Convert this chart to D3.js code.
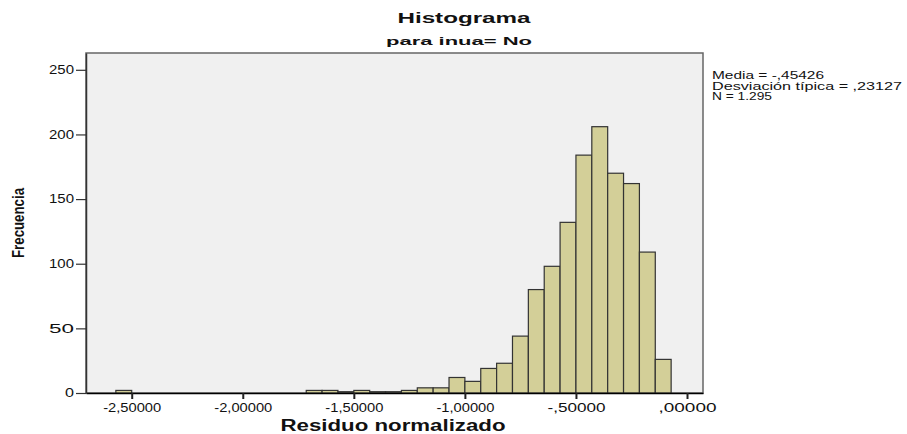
<html>
<head>
<meta charset="utf-8">
</head>
<body style="margin: 0 0 0 0; background: #fff;">
<svg id="chart"></svg>
<script src="https://cdnjs.cloudflare.com/ajax/libs/d3/7.8.5/d3.min.js"></script>
<script type="text/javascript">

// histogram: bins of width 1/14, first bin starts at -36/14
var binWidth = 1 / 14
var binStart = -36 / 14
var counts = [2, 0, 0, 0, 0, 0, 0, 0, 0, 0, 0, 0,
              2, 2, 1, 2, 1, 1, 2, 4, 4, 12, 9, 19, 23,
              44, 80, 98, 132, 184, 206, 170, 162, 109, 26]

var xTicks = [-2.5, -2.0, -1.5, -1.0, -0.5, 0]
var xTickLabels = ["-2,50000", "-2,00000", "-1,50000", "-1,00000", "-,50000", ",00000"]
var yTicks = [0, 50, 100, 150, 200, 250]

var statsLines = ["Media = -,45426", "Desviación típica = ,23127", "N = 1.295"]
var statsWidths = [112, 190, 60]

var W = 907, H = 434
// note: "top" is reserved on window, so use p* names
var pLeft = 86, pRight = 703, pTop = 53, pBottom = 393
var font = "'Liberation Sans', Arial, sans-serif"

var svg = d3.select(document.getElementById("chart"))
.attr("width", W)
.attr("height", H)
.style("font-family", font)

var x = d3.scaleLinear().domain([-2.7058, 0.072]).range([pLeft, pRight])
var y = d3.scaleLinear().domain([0, 263]).range([pBottom, pTop])

var bins = counts.map(function(c, i) {
  return { x0: binStart + i * binWidth, x1: binStart + (i + 1) * binWidth, n: c }
}).filter(function(b) { return b.n > 0 })

// plot background
svg.append("rect")
.attr("x", pLeft).attr("y", pTop)
.attr("width", pRight - pLeft).attr("height", pBottom - pTop)
.attr("fill", "#f0f0f0")
.attr("stroke", "#666")
.attr("stroke-width", 1.5)

svg.append("g")
.selectAll("rect")
.data(bins)
.enter()
.append("rect")
.attr("x", function(d) { return x(d.x0) })
.attr("width", function(d) { return x(d.x1) - x(d.x0) })
.attr("y", function(d) { return y(d.n) })
.attr("height", function(d) { return y(0) - y(d.n) })
.attr("fill", "#d3cf98")
.attr("stroke", "#333")
.attr("stroke-width", 1.2)

// x axis
var xAxis = svg.append("g")
.attr("transform", "translate(0," + pBottom + ")")
.call(d3.axisBottom(x).tickValues(xTicks).tickSize(6).tickSizeOuter(0).tickPadding(4)
  .tickFormat(function(d, i) { return xTickLabels[i] }))
xAxis.select(".domain").attr("stroke", "#000").attr("stroke-width", 1.5)
xAxis.selectAll(".tick line").attr("stroke", "#222").attr("stroke-width", 2)
xAxis.selectAll(".tick text")
.attr("font-size", 12).attr("font-family", font).attr("fill", "#111")
.attr("textLength", 58).attr("lengthAdjust", "spacingAndGlyphs")

// y axis
var yAxis = svg.append("g")
.attr("transform", "translate(" + pLeft + ",0)")
.call(d3.axisLeft(y).tickValues(yTicks).tickSize(10).tickSizeOuter(0).tickPadding(2))
yAxis.select(".domain").attr("stroke", "#333").attr("stroke-width", 1.5)
yAxis.selectAll(".tick line").attr("stroke", "#333").attr("stroke-width", 1.2)
yAxis.selectAll(".tick text")
.attr("font-size", 12).attr("font-family", font).attr("fill", "#111")
.attr("textLength", function(d) { return d === 0 ? 9 : 25 })
.attr("lengthAdjust", "spacingAndGlyphs")

// titles
var label = function(txt, px, py, size, len, rot) {
  var t = svg.append("text")
  .attr("text-anchor", "middle")
  .attr("font-size", size)
  .attr("font-weight", "bold")
  .attr("fill", "#111")
  .attr("textLength", len)
  .attr("lengthAdjust", "spacingAndGlyphs")
  .text(txt)
  if(rot) {
    t.attr("transform", "translate(" + px + "," + py + ") rotate(-90)")
  } else {
    t.attr("x", px).attr("y", py)
  }
  return t
}

label("Histograma", 464, 23, 14, 133)
label("para inua= No", 459, 45, 11.5, 146)
label("Residuo normalizado", 393, 431, 16, 225)
label("Frecuencia", 24, 223, 16, 70, true)

// stats box text
svg.append("g")
.selectAll("text")
.data(statsLines)
.enter()
.append("text")
.attr("x", 712)
.attr("y", function(d, i) { return 79 + i * 10.5 })
.attr("font-size", 10.5)
.attr("fill", "#111")
.attr("textLength", function(d, i) { return statsWidths[i] })
.attr("lengthAdjust", "spacingAndGlyphs")
.text(function(d) { return d })

</script>
</body>
</html>
